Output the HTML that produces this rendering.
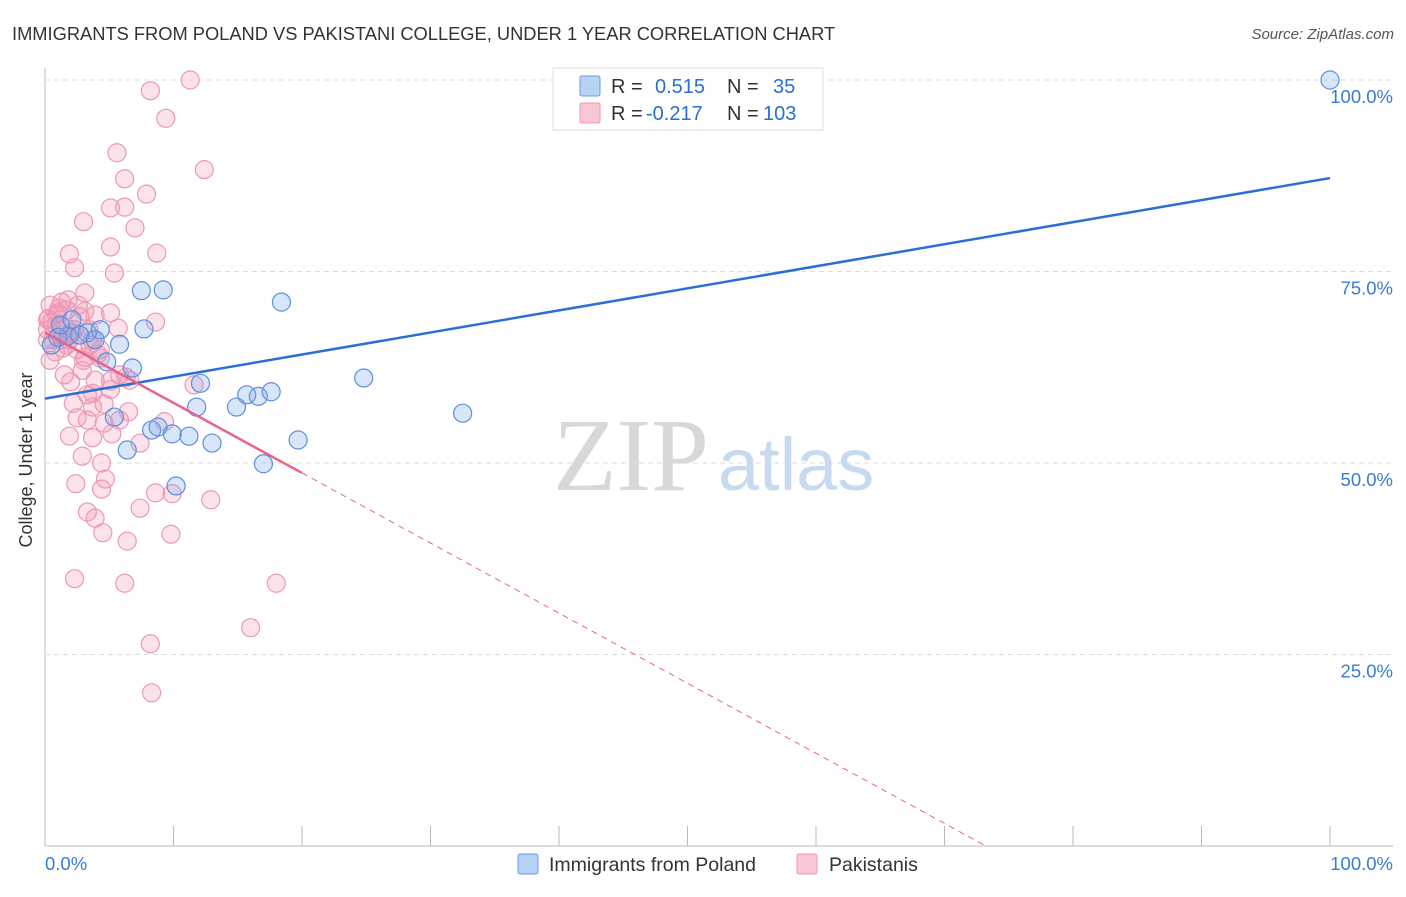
<!DOCTYPE html>
<html><head><meta charset="utf-8"><style>
body{margin:0;background:#fff;font-family:"Liberation Sans",sans-serif}
</style></head><body>
<svg id="c" width="1406" height="892" viewBox="0 0 1406 892" xmlns="http://www.w3.org/2000/svg" font-family="Liberation Sans, sans-serif">
<text x="12" y="40" font-size="18.3" fill="#333">IMMIGRANTS FROM POLAND VS PAKISTANI COLLEGE, UNDER 1 YEAR CORRELATION CHART</text>
<text x="1394" y="39" font-size="15" fill="#555" font-style="italic" text-anchor="end">Source: ZipAtlas.com</text>
<g id="grid"></g>
<text x="553" y="490" font-size="104" fill="#d8d8d8" font-family="Liberation Serif, serif">ZIP</text>
<text x="718" y="490" font-size="74" fill="#c8daf0">atlas</text>
<g id="pts"></g>
<g id="lines"></g>
<text x="32" y="460" font-size="18" fill="#333" transform="rotate(-90 32 460)" text-anchor="middle">College, Under 1 year</text>
<g>
<rect x="553" y="68" width="270" height="62" fill="#fff" stroke="#ddd"/>
<rect x="580" y="76" width="20" height="20" fill="#b8d2f5" stroke="#6a9ee0" rx="2"/>
<rect x="580" y="103" width="20" height="20" fill="#f9c6d6" stroke="#ec98b4" rx="2"/>
<text x="611" y="93" font-size="20" fill="#333">R = <tspan x="655" fill="#2a6fd6">0.515</tspan><tspan x="727">N = </tspan><tspan x="773" fill="#2a6fd6">35</tspan></text>
<text x="611" y="120" font-size="20" fill="#333">R = <tspan x="646" fill="#2a6fd6">-0.217</tspan><tspan x="727">N = </tspan><tspan x="763" fill="#2a6fd6">103</tspan></text>
</g>
<g>
<rect x="518" y="854" width="20" height="20" fill="#b8d2f5" stroke="#6a9ee0" rx="2"/>
<text x="549" y="871" font-size="19.5" fill="#333">Immigrants from Poland</text>
<rect x="797" y="854" width="20" height="20" fill="#f9c6d6" stroke="#ec98b4" rx="2"/>
<text x="829" y="871" font-size="19.5" fill="#333">Pakistanis</text>
</g>
</svg>
<script>
const yTicks=[25,50,75,100];
const xTickLabels=["0.0%","100.0%"];
const blueX=[100,7.5,9.2,18.4,7.7,5.8,1.8,1.0,3.3,4.8,6.8,4.3,12.1,24.8,32.5,15.7,16.6,17.6,11.8,14.9,5.4,8.3,8.8,9.9,11.2,13.0,6.4,19.7,17.0,10.2,2.7,3.9,1.2,2.1,0.5];
const blueY=[100,72.5,72.6,71.0,67.5,65.5,66.6,66.4,67.0,63.2,62.4,67.4,60.4,61.1,56.5,58.9,58.7,59.3,57.3,57.3,56.0,54.3,54.7,53.8,53.5,52.6,51.7,53.0,49.9,47.0,66.7,66.1,68.0,68.7,65.4];
const pinkX=[11.3,8.2,9.4,5.6,12.4,6.2,7.9,5.1,6.2,3.0,7.0,5.1,1.9,8.7,2.3,5.4,3.1,0.4,1.3,1.7,0.9,0.2,0.9,0.2,1.2,1.9,2.7,3.9,5.1,8.6,3.4,3.7,2.5,1.7,0.4,3.1,4.3,1.5,2.9,3.9,5.1,6.3,2.0,3.7,2.2,3.7,4.6,6.5,5.8,2.5,3.3,4.6,9.3,11.6,1.9,3.7,5.2,7.4,2.9,4.4,4.7,2.4,4.4,8.6,9.9,12.9,7.4,3.3,3.9,9.8,4.5,6.4,2.3,6.2,18.0,16.0,8.2,8.3,0.2,0.8,1.6,2.3,3.5,4.3,3.0,1.0,1.8,2.6,0.5,1.3,5.1,5.8,3.3,6.6,1.4,2.1,5.7,0.6,3.1,4.1,0.3,1.1,2.0];
const pinkY=[100,98.6,95.0,90.5,88.3,87.1,85.1,83.3,83.4,81.5,80.7,78.2,77.3,77.4,75.5,74.8,72.2,70.6,71.0,70.0,69.3,68.7,68.0,67.4,66.7,66.1,69.1,69.3,69.6,68.4,67.4,66.1,64.8,65.4,63.4,63.8,63.7,61.5,62.1,60.8,60.7,61.2,60.6,59.1,57.8,57.3,57.7,56.7,55.6,55.9,55.6,55.2,55.4,60.2,53.5,53.3,53.8,52.6,50.9,50.0,47.9,47.3,46.6,46.1,46.0,45.2,44.1,43.6,42.8,40.7,40.9,39.8,34.9,34.3,34.3,28.5,26.4,20.0,66.1,64.5,67.6,67.4,65.4,64.8,63.4,69.6,71.3,70.6,68.4,66.1,59.6,61.5,58.9,60.8,65.0,67.0,67.6,66.1,69.8,64.2,68.9,70.2,66.9];
const blueLine=[58.4,87.2];
const pinkLine=[67.0,-0.915];
const pinkSolidEnd=20;
const NS='http://www.w3.org/2000/svg';
const X=v=>45+v*12.85, Y=v=>846-v*7.66;
function mk(t,a){const e=document.createElementNS(NS,t);for(const k in a)e.setAttribute(k,a[k]);return e;}
const grid=document.getElementById('grid');
grid.appendChild(mk('line',{x1:45,y1:68,x2:45,y2:846,stroke:'#bbb'}));
grid.appendChild(mk('line',{x1:45,y1:846,x2:1393,y2:846,stroke:'#bbb'}));
for(let i=0;i<=10;i++){const l=mk('line',{x1:X(i*10),y1:826,x2:X(i*10),y2:846,stroke:'#bbb'});


grid.appendChild(l);}
yTicks.forEach(t=>{const l=mk('line',{x1:45,y1:Y(t),x2:1393,y2:Y(t),stroke:'#ddd','stroke-dasharray':'5,4'});


grid.appendChild(l);
const tx=mk('text',{x:1393,y:Y(t)+23,'font-size':18.5,fill:'#3a7bd5','text-anchor':'end'});tx.textContent=t.toFixed(1)+'%';


grid.appendChild(tx);});
xTickLabels.forEach((s,i)=>{const tx=mk('text',{x:i?1393:45,y:870,'font-size':18.5,fill:'#3a7bd5','text-anchor':i?'end':'start'});tx.textContent=s;


grid.appendChild(tx);});
const pts=document.getElementById('pts');
pinkX.forEach((x,i)=>{const c=mk('circle',{cx:X(x),cy:Y(pinkY[i]),r:9,fill:'rgba(244,150,180,0.28)',stroke:'#ec98b4','stroke-width':1.2});


pts.appendChild(c);});
blueX.forEach((x,i)=>{const c=mk('circle',{cx:X(x),cy:Y(blueY[i]),r:9,fill:'rgba(120,165,235,0.28)',stroke:'#5a90dc','stroke-width':1.2});


pts.appendChild(c);});
const lines=document.getElementById('lines');
const bl=mk('line',{x1:X(0),y1:Y(blueLine[0]),x2:X(100),y2:Y(blueLine[1]),stroke:'#2a6fd6','stroke-width':2.5});


lines.appendChild(bl);
const pf=x=>pinkLine[0]+pinkLine[1]*x;
const ps=mk('line',{x1:X(0),y1:Y(pf(0)),x2:X(pinkSolidEnd),y2:Y(pf(pinkSolidEnd)),stroke:'#e8648c','stroke-width':2.5});


lines.appendChild(ps);
const z=-pinkLine[0]/pinkLine[1];
const pd=mk('line',{x1:X(pinkSolidEnd),y1:Y(pf(pinkSolidEnd)),x2:X(z),y2:Y(0),stroke:'#e8648c','stroke-width':1,'stroke-dasharray':'6,5'});


lines.appendChild(pd);
</script>
</body></html>
